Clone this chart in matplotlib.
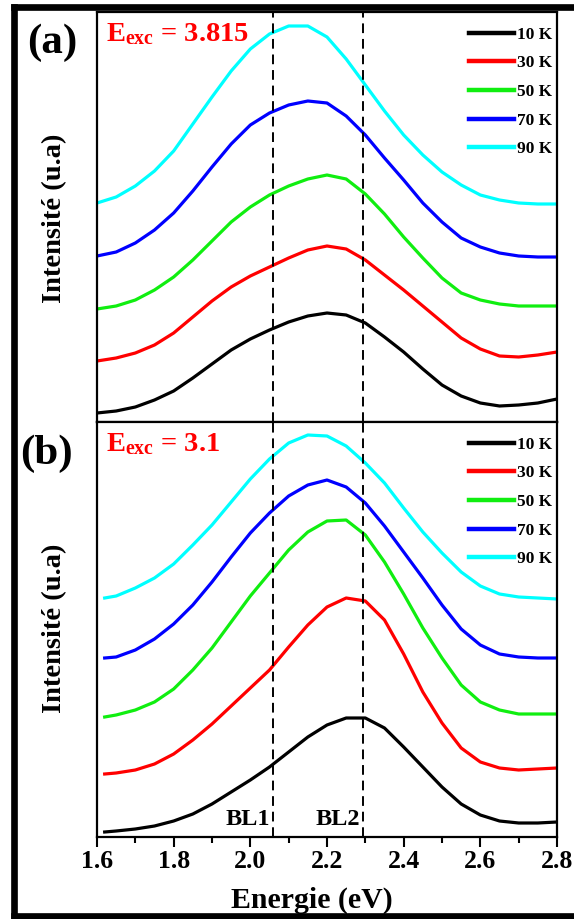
import matplotlib
matplotlib.use('Agg')
import matplotlib.pyplot as plt
from matplotlib.lines import Line2D

plt.rcParams['font.family'] = ['Liberation Serif', 'DejaVu Serif']
plt.rcParams['font.weight'] = 'bold'
plt.rcParams['mathtext.fontset'] = 'custom'
plt.rcParams['mathtext.rm'] = 'Liberation Serif:bold'
plt.rcParams['mathtext.it'] = 'Liberation Serif:bold'
plt.rcParams['mathtext.bf'] = 'Liberation Serif:bold'

# energies (eV)
energie_a = [1.60, 1.65, 1.70, 1.75, 1.80, 1.85, 1.90, 1.95, 2.00, 2.05, 2.10, 2.15, 2.20,
             2.25, 2.30, 2.35, 2.40, 2.45, 2.50, 2.55, 2.60, 2.65, 2.70, 2.75, 2.80]
energie_b = [1.62, 1.65, 1.70, 1.75, 1.80, 1.85, 1.90, 1.95, 2.00, 2.05, 2.10, 2.15, 2.20,
             2.25, 2.30, 2.35, 2.40, 2.45, 2.50, 2.55, 2.60, 2.65, 2.70, 2.75, 2.80]

labels = ['10 K', '30 K', '50 K', '70 K', '90 K']
colors = ['#000000', '#ff0000', '#10ee10', '#0000ff', '#00ffff']

# (a) Eexc = 3.815  (stacked, arbitrary units)
a_10K = [9, 11, 15, 22, 31, 44, 58, 72, 83, 92, 100, 106, 109, 107, 99, 85, 70, 53, 37, 26, 19, 16, 17, 19, 23]
a_30K = [61, 64, 69, 77, 89, 105, 121, 135, 146, 155, 164, 172, 176, 173, 162, 147, 132, 116, 100, 84, 73, 66, 65, 67, 70]
a_50K = [113, 116, 122, 132, 145, 162, 181, 200, 215, 227, 236, 243, 247, 243, 228, 208, 185, 164, 144, 129, 122, 118, 116, 116, 116]
a_70K = [166, 170, 179, 192, 209, 231, 255, 278, 297, 309, 317, 321, 319, 306, 287, 264, 242, 219, 200, 184, 175, 169, 166, 165, 165]
a_90K = [219, 225, 236, 251, 271, 298, 325, 351, 373, 388, 396, 396, 385, 363, 337, 311, 287, 267, 250, 237, 227, 222, 219, 218, 218]

# (b) Eexc = 3.1
b_10K = [5, 6, 8, 11, 16, 23, 33, 45, 57, 70, 85, 100, 112, 119, 119, 109, 90, 70, 50, 33, 22, 16, 14, 14, 15]
b_30K = [63, 64, 67, 73, 83, 97, 113, 131, 149, 167, 190, 212, 230, 239, 236, 217, 183, 145, 114, 89, 75, 69, 67, 68, 69]
b_50K = [120, 122, 127, 135, 148, 167, 189, 215, 241, 264, 287, 305, 316, 317, 302, 275, 243, 209, 179, 152, 135, 127, 123, 123, 123]
b_70K = [179, 180, 187, 198, 213, 232, 255, 280, 304, 324, 341, 352, 357, 350, 334, 311, 285, 259, 232, 208, 192, 183, 180, 179, 179]
b_90K = [239, 241, 249, 259, 273, 292, 312, 335, 358, 378, 394, 402, 401, 391, 374, 354, 329, 305, 284, 265, 251, 243, 240, 239, 238]

bl_pos = [2.06, 2.295]
bl_names = ['BL1', 'BL2']

W, H = 574, 919
fig = plt.figure(figsize=(W/100, H/100), dpi=100)
fig.patch.set_facecolor('white')

# outer frame (left, top, bottom; right side runs off the picture)
x0, y0, y1 = 13.5/W, 1-916/H, 1-7/H
for xs, ys in [([x0, x0], [y0, y1]), ([x0, 1.0], [y1, y1]), ([x0, 1.0], [y0, y0])]:
    fig.add_artist(Line2D(xs, ys, transform=fig.transFigure, color='black', lw=4.8,
                          solid_capstyle='projecting'))

L, R = 97/W, 557/W
ax_a = fig.add_axes([L, 1-422/H, R-L, 410/H])
ax_b = fig.add_axes([L, 1-837/H, R-L, 415/H])

panels = [(ax_a, energie_a, [a_10K, a_30K, a_50K, a_70K, a_90K], 410, 'E_{exc}', '3.815', '(a)', (52, 43), 218),
          (ax_b, energie_b, [b_10K, b_30K, b_50K, b_70K, b_90K], 415, 'E_{exc}', '3.1', '(b)', (46, 454), 628)]

for ax, e, series, ytop, sub, val, tag, tagpos, ylab_y in panels:
    for s, c, lab in zip(series, colors, labels):
        ax.plot(e, s, color=c, lw=2.3, label=lab, solid_joinstyle='round')
    for xb in bl_pos:
        ax.axvline(xb, color='black', lw=1.4, linestyle=(0, (5, 3)))
    ax.set_xlim(1.6, 2.8)
    ax.set_ylim(0, ytop)
    ax.set_yticks([])
    for sp in ax.spines.values():
        sp.set_linewidth(1.6)
    ax.text(0.02, 0.978, r'$' + sub + r'$ = ' + val, transform=ax.transAxes, color='#ff0000',
            fontsize=20.5, fontweight='bold', va='top', ha='left')
    leg = ax.legend(loc='upper right', bbox_to_anchor=(1.012, 0.99), frameon=False,
                    prop={'size': 12.5, 'weight': 'bold'}, handlelength=2.6,
                    handletextpad=0.15, labelspacing=0.72, borderaxespad=0.2)
    for ln in leg.get_lines():
        ln.set_linewidth(3.2)
    fig.text(tagpos[0]/W, 1-tagpos[1]/H, tag, fontsize=31, fontweight='bold',
             ha='center', va='center')
    fig.text(55/W, 1-ylab_y/H, 'Intensité (u.a)', fontsize=20.5, fontweight='bold',
             rotation=90, ha='center', va='center')

ax_a.set_xticks([])
ax_b.set_xticks([1.6, 1.8, 2.0, 2.2, 2.4, 2.6, 2.8])
ax_b.set_xticklabels(['1.6', '1.8', '2.0', '2.2', '2.4', '2.6', '2.8'], fontsize=18.5, fontweight='bold')
ax_b.set_xticks([1.7, 1.9, 2.1, 2.3, 2.5, 2.7], minor=True)
ax_b.tick_params(axis='x', which='major', direction='out', length=7, width=1.5, pad=2)
ax_b.tick_params(axis='x', which='minor', direction='out', length=4, width=1.5)

for xb, nm in zip(bl_pos, bl_names):
    ax_b.text(xb - 0.008, 7, nm, fontsize=17.5, fontweight='bold', ha='right', va='bottom')

fig.text(312/W, 1-900/H, 'Energie (eV)', fontsize=21.5, fontweight='bold', ha='center', va='center')

fig.savefig('out.png', dpi=100)
